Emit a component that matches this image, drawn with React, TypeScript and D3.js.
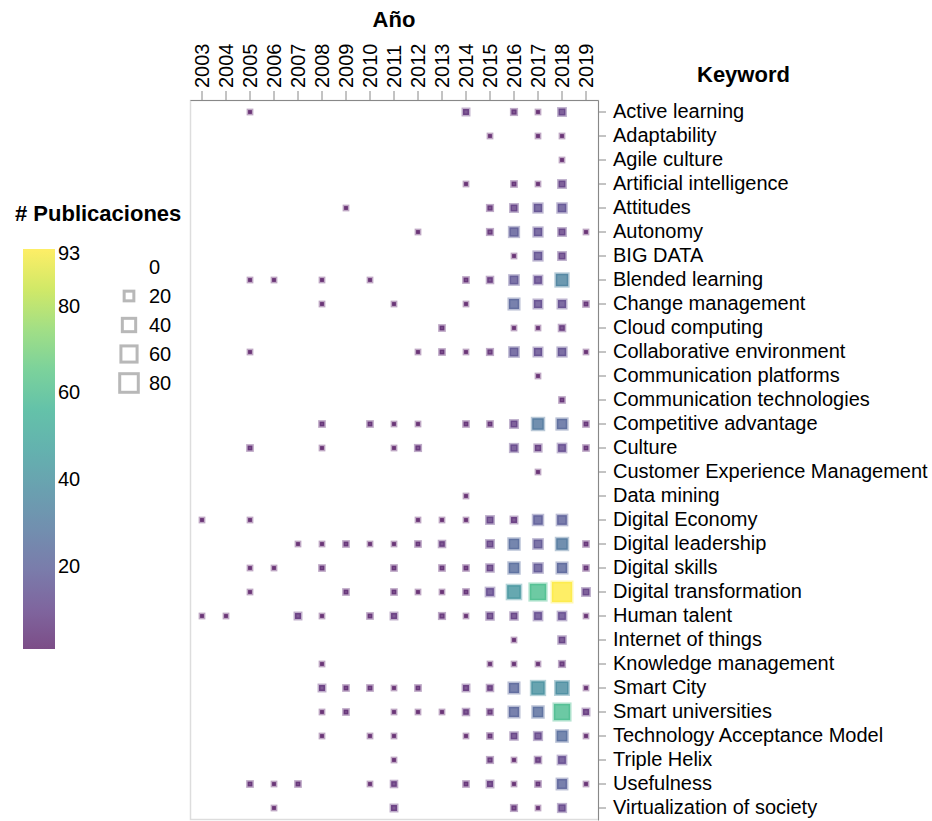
import React, { useEffect, useRef } from 'react';
import * as d3 from 'd3';

const years = ['2003','2004','2005','2006','2007','2008','2009','2010','2011','2012','2013','2014','2015','2016','2017','2018','2019'];

const keywords = [
  'Active learning','Adaptability','Agile culture','Artificial intelligence','Attitudes','Autonomy','BIG DATA',
  'Blended learning','Change management','Cloud computing','Collaborative environment','Communication platforms',
  'Communication technologies','Competitive advantage','Culture','Customer Experience Management','Data mining',
  'Digital Economy','Digital leadership','Digital skills','Digital transformation','Human talent','Internet of things',
  'Knowledge management','Smart City','Smart universities','Technology Acceptance Model','Triple Helix','Usefulness',
  'Virtualization of society'
];

// publications per keyword, one value per year 2003..2019 (0 = none)
const counts: number[][] = [
  [0,0,1,0,0,0,0,0,0,0,0,6,0,4,1,9,0],
  [0,0,0,0,0,0,0,0,0,0,0,0,1,0,1,1,0],
  [0,0,0,0,0,0,0,0,0,0,0,0,0,0,0,1,0],
  [0,0,0,0,0,0,0,0,0,0,0,1,0,3,1,9,0],
  [0,0,0,0,0,0,1,0,0,0,0,0,4,9,14,15,0],
  [0,0,0,0,0,0,0,0,0,1,0,0,4,18,14,9,1],
  [0,0,0,0,0,0,0,0,0,0,0,0,0,1,14,9,0],
  [0,0,1,1,0,1,0,1,0,0,0,3,5,16,12,34,0],
  [0,0,0,0,0,1,0,0,1,0,0,1,0,22,13,13,3],
  [0,0,0,0,0,0,0,0,0,0,3,0,0,1,1,5,0],
  [0,0,1,0,0,0,0,0,0,1,3,1,4,16,13,14,1],
  [0,0,0,0,0,0,0,0,0,0,0,0,0,0,1,0,0],
  [0,0,0,0,0,0,0,0,0,0,0,0,0,0,0,3,0],
  [0,0,0,0,0,3,0,3,1,1,0,3,3,9,29,23,3],
  [0,0,3,0,0,1,0,0,1,4,0,0,0,10,7,12,3],
  [0,0,0,0,0,0,0,0,0,0,0,0,0,0,1,0,0],
  [0,0,0,0,0,0,0,0,0,0,0,1,0,0,0,0,0],
  [1,0,1,0,0,0,0,0,0,1,1,1,9,6,19,20,0],
  [0,0,0,0,1,1,3,1,1,3,5,0,9,24,16,29,3],
  [0,0,1,1,0,3,0,0,3,0,3,3,8,24,16,22,3],
  [0,0,1,0,0,0,3,0,3,1,1,3,12,42,61,93,9],
  [1,1,0,0,6,1,0,3,6,0,4,1,8,8,12,12,1],
  [0,0,0,0,0,0,0,0,0,0,0,0,0,1,0,8,0],
  [0,0,0,0,0,1,0,0,0,0,0,0,1,1,1,4,0],
  [0,0,0,0,0,6,3,3,1,3,0,6,5,22,40,38,1],
  [0,0,0,0,0,1,3,0,1,1,1,5,4,22,24,60,6],
  [0,0,0,0,0,1,0,1,1,0,0,1,3,8,10,25,1],
  [0,0,0,0,0,0,0,0,1,0,0,0,4,1,5,12,0],
  [0,0,3,1,3,0,0,1,5,0,0,3,6,1,3,21,1],
  [0,0,0,1,0,0,0,0,6,0,0,0,0,4,1,10,0]
];

const colorTicks = [20, 40, 60, 80, 93];
const sizeLegendValues = [0, 20, 40, 60, 80];

const W = 932;
const H = 821;
const FONT = 'Liberation Sans, Arial, sans-serif';

export default function App() {
  const ref = useRef<SVGSVGElement>(null);

  useEffect(() => {
    const svg = d3.select(ref.current);
    svg.selectAll('*').remove();

    const x = d3.scaleBand<string>().domain(years).range([190, 598]);
    const y = d3.scaleBand<string>().domain(keywords).range([100, 820]);
    const allVals = counts.flat().filter(v => v > 0);
    const vMin = d3.min(allVals) as number;
    const vMax = d3.max(allVals) as number;
    const color = d3.scaleSequential(d3.interpolateViridis).domain([vMin, vMax]);
    const area = d3.scaleLinear().domain([0, vMax]).range([10, 400]);
    const side = (v: number) => Math.sqrt(area(v));

    // frame
    svg.append('rect')
      .attr('x', 190.5).attr('y', 100.5).attr('width', 408).attr('height', 719)
      .attr('fill', 'none').attr('stroke', '#ddd').attr('stroke-width', 1.5);

    // marks
    const cells: { k: string; yr: string; v: number }[] = [];
    keywords.forEach((k, i) => years.forEach((yr, j) => {
      const v = counts[i][j];
      if (v > 0) cells.push({ k, yr, v });
    }));
    svg.append('g').selectAll('rect').data(cells).join('rect')
      .attr('x', d => (x(d.yr)! + x.bandwidth() / 2) - side(d.v) / 2)
      .attr('y', d => (y(d.k)! + y.bandwidth() / 2) - side(d.v) / 2)
      .attr('width', d => side(d.v))
      .attr('height', d => side(d.v))
      .attr('fill', d => color(d.v))
      .attr('fill-opacity', 0.7)
      .attr('stroke', d => color(d.v))
      .attr('stroke-opacity', 0.35)
      .attr('stroke-width', 3);

    // top axis
    const gx = svg.append('g').attr('transform', 'translate(0,100)')
      .call(d3.axisTop(x).tickSize(9).tickSizeOuter(0).tickPadding(3));
    gx.select('.domain').attr('stroke', '#888');
    gx.selectAll('.tick line').attr('stroke', '#888');
    gx.selectAll('.tick text')
      .attr('transform', 'rotate(-90)')
      .attr('x', 12).attr('y', 0).attr('dy', '0.35em')
      .attr('text-anchor', 'start')
      .attr('font-family', FONT).attr('font-size', 20).attr('fill', '#000');

    // right axis
    const gy = svg.append('g').attr('transform', 'translate(598,0)')
      .call(d3.axisRight(y).tickSize(8).tickSizeOuter(0).tickPadding(7));
    gy.select('.domain').attr('stroke', '#888');
    gy.selectAll('.tick line').attr('stroke', '#888');
    gy.selectAll('.tick text')
      .attr('font-family', FONT).attr('font-size', 20).attr('fill', '#000');

    // titles
    svg.append('text').attr('x', 394).attr('y', 27).attr('text-anchor', 'middle')
      .attr('font-family', FONT).attr('font-size', 22).attr('font-weight', 'bold').text('Año');
    svg.append('text').attr('x', 697).attr('y', 82).attr('text-anchor', 'start')
      .attr('font-family', FONT).attr('font-size', 22).attr('font-weight', 'bold').text('Keyword');
    svg.append('text').attr('x', 15).attr('y', 221).attr('text-anchor', 'start')
      .attr('font-family', FONT).attr('font-size', 22).attr('font-weight', 'bold').text('# Publicaciones');

    // color legend
    const defs = svg.append('defs');
    const grad = defs.append('linearGradient').attr('id', 'vgrad')
      .attr('x1', 0).attr('y1', 1).attr('x2', 0).attr('y2', 0);
    d3.range(0, 1.0001, 0.1).forEach(t => {
      grad.append('stop').attr('offset', t).attr('stop-color', d3.interpolateViridis(t));
    });
    const ly = d3.scaleLinear().domain([vMin, vMax]).range([649, 249]);
    svg.append('rect').attr('x', 23).attr('y', ly(vMax)).attr('width', 32)
      .attr('height', ly(vMin) - ly(vMax)).attr('fill', 'url(#vgrad)').attr('opacity', 0.7);
    svg.append('g').selectAll('text').data(colorTicks).join('text')
      .attr('x', 58).attr('y', d => d === vMax ? ly(d) + 4 : ly(d))
      .attr('dy', '0.35em')
      .attr('font-family', FONT).attr('font-size', 20).attr('fill', '#000')
      .text(d => String(d));

    // size legend
    const sg = svg.append('g');
    sizeLegendValues.forEach((v, i) => {
      const cy = 267 + i * 29;
      const s = side(v);
      if (v > 0) {
        sg.append('rect').attr('x', 129 - s / 2).attr('y', cy - s / 2)
          .attr('width', s).attr('height', s)
          .attr('fill', 'none').attr('stroke', '#888').attr('stroke-opacity', 0.6).attr('stroke-width', 3);
      }
      sg.append('text').attr('x', 149).attr('y', cy).attr('dy', '0.35em')
        .attr('font-family', FONT).attr('font-size', 20).attr('fill', '#000').text(String(v));
    });
  }, []);

  return <svg ref={ref} width={W} height={H} style={{ position: 'absolute', left: 0, top: 0, background: '#fff' }} />;
}
